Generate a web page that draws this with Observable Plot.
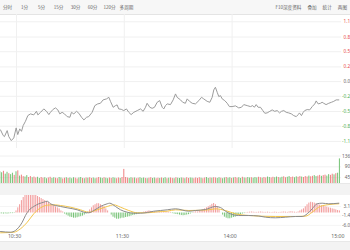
<!DOCTYPE html>
<html><head><meta charset="utf-8">
<script src="https://cdn.jsdelivr.net/npm/d3@7"></script>
<script src="https://cdn.jsdelivr.net/npm/@observablehq/plot@0.6"></script>
<style>
html,body{margin:0;padding:0;background:#fff;}
#wrap{position:relative;width:350px;height:250px;overflow:hidden;font-family:"Noto Sans CJK SC","Noto Sans",sans-serif;}
.tb{position:absolute;left:0;top:0;width:350px;height:15px;background:#f7f7f7;border-bottom:1px solid #e4e4e4;box-sizing:border-box;display:flex;align-items:center;}
.tb .l{display:flex;margin-left:-1px;}
.tb .l span{width:17px;text-align:center;font-size:4.6px;color:#666;}
.tb .r{display:flex;margin-left:auto;margin-right:0;}
.tb .r span{font-size:4.6px;color:#666;margin:0 3px;}
.panel{position:absolute;left:0;}
.panel svg{overflow:hidden;display:block;}
.band{position:absolute;left:0;width:350px;background:#f3f3f3;}
</style></head><body>
<div id="wrap">
  <div class="tb"><div class="l" id="tl"></div><div class="r" id="tr"></div></div>
  <div class="panel" id="price" style="top:14px"></div>
  <div class="panel" id="vol" style="top:148px"></div>
  <div class="band" style="top:183px;height:12px;border-top:1px solid #e8e8e8;box-sizing:border-box;"></div>
  <div class="panel" id="macd" style="top:195px"></div>
  <div class="band" style="top:241px;height:9px;border-top:1px solid #e8e8e8;box-sizing:border-box;"></div>
</div>
<script>
// ---- data ----
const tabsLeft = ["分时","1分","5分","15分","30分","60分","120分","多周期"];
const tabsRight = ["F10深度资料","叠加","统计","两图"];

const timeTicks = [60, 120, 180, 240];
const timeLabels = ["10:30", "11:30", "14:00", "15:00"];

const pctTicks = [1.18, 0.88, 0.59, 0.29, 0, -0.29, -0.59, -0.88, -1.18];
const pctLabels = ["1.1", "0.8", "0.5", "0.2", "0.0", "-0.2", "-0.5", "-0.8", "-1.1"];

const volTicks = [136.1, 90.7, 45.4];
const volLabels = ["136", "90", "45"];

const macdTicks = [3.15, -1.42, -5.99];
const macdLabels = ["3.1", "-1.4", "-6.0"];

// price line: minute index (0 = 9:30, 120 = 11:30/13:00, 240 = 15:00) and % change
const priceT = [51.1,52.6,53.3,54.8,55.7,57.1,58.5,59.8,60.7,61.8,62.8,63.7,65.0,66.3,67.8,69.6,71.1,71.9,73.4,75.2,76.7,78.0,78.9,80.4,81.7,83.0,84.1,85.4,86.7,88.2,89.7,90.6,91.9,93.4,94.7,96.2,97.5,99.0,100.2,102.1,103.6,105.2,106.7,108.2,110.1,111.4,112.3,113.8,115.1,116.0,116.9,118.3,119.7,121.2,122.5,123.8,125.3,127.2,129.0,130.5,131.8,132.7,134.2,135.5,136.8,138.3,139.7,141.1,142.0,142.9,143.9,145.7,147.2,148.5,149.4,151.3,152.5,154.0,155.0,156.3,157.8,159.6,161.5,163.0,164.2,166.1,167.6,168.9,169.8,170.7,171.7,172.6,173.5,174.5,175.9,177.3,178.5,180.0,181.9,183.7,185.2,186.5,188.4,190.2,191.5,192.4,193.4,194.5,195.8,197.1,198.2,199.5,201.0,202.3,203.7,205.1,206.4,207.5,208.8,210.1,211.5,213.0,214.3,215.7,216.8,217.5,218.6,219.6,220.4,221.8,223.2,224.6,226.0,226.8,227.9,229.2,230.1,231.0,232.3,233.8,235.3,236.6,237.9,239.4];
const pricePct = [-0.953,-1.065,-1.085,-0.967,-1.085,-1.164,-1.111,-0.914,-1.046,-0.933,-0.981,-0.868,-0.783,-0.671,-0.637,-0.657,-0.586,-0.657,-0.606,-0.539,-0.586,-0.651,-0.606,-0.547,-0.519,-0.558,-0.637,-0.606,-0.637,-0.691,-0.704,-0.606,-0.637,-0.586,-0.625,-0.704,-0.756,-0.704,-0.691,-0.606,-0.474,-0.440,-0.428,-0.361,-0.341,-0.310,-0.389,-0.507,-0.474,-0.460,-0.539,-0.547,-0.572,-0.539,-0.606,-0.651,-0.606,-0.572,-0.539,-0.586,-0.507,-0.428,-0.507,-0.527,-0.507,-0.408,-0.375,-0.507,-0.539,-0.474,-0.440,-0.454,-0.361,-0.243,-0.310,-0.361,-0.408,-0.428,-0.341,-0.389,-0.428,-0.440,-0.375,-0.310,-0.341,-0.389,-0.408,-0.310,-0.164,-0.112,-0.211,-0.296,-0.276,-0.341,-0.375,-0.428,-0.493,-0.493,-0.479,-0.519,-0.507,-0.454,-0.474,-0.493,-0.474,-0.507,-0.454,-0.507,-0.507,-0.572,-0.625,-0.618,-0.586,-0.558,-0.586,-0.572,-0.618,-0.586,-0.572,-0.606,-0.618,-0.637,-0.671,-0.691,-0.651,-0.618,-0.671,-0.606,-0.572,-0.552,-0.558,-0.493,-0.440,-0.381,-0.440,-0.428,-0.408,-0.428,-0.454,-0.428,-0.408,-0.389,-0.361,-0.361];

// per-minute bars start at minute 51
const barStart = 51;
const volume = [70,66,72,60,68,62,58,64,55,70,
74,52,56,50,48,54,46,50,45,48,
44,47,42,46,43,45,41,44,47,42,
45,43,41,46,44,40,43,45,42,44,
41,45,43,40,44,46,42,41,44,43,
45,42,44,41,43,46,44,42,45,43,
41,44,42,45,43,41,44,42,46,80,
46,44,42,45,43,44,41,43,45,42,
44,42,41,43,45,42,44,41,43,42,
44,42,45,41,43,44,42,41,45,43,
42,44,43,41,45,42,44,43,41,44,
42,45,43,41,44,46,42,44,43,45,
44,42,45,43,41,44,46,43,45,42,
44,46,43,45,42,47,44,43,46,44,
45,43,46,44,47,45,43,46,44,48,
46,44,47,45,48,46,44,47,49,45,
47,50,46,48,45,49,47,50,48,46,
50,48,52,49,51,54,50,52,55,51,
54,56,52,58,55,60,57,62,64,124];
const volDir = ["ddudduddud","uduudduudu","udduudduud","duudduudud","dduuddudud",
"uudduuddud","duudduuduu","uudduduudd","duduudduud","udduduudud",
"dduduudduu","uuduuddudu","uddudduddu","duuddududd","uddduuduud",
"duuddudduu","dduudduudu","uuduudduud","uudduududd"].join("");

const macdHist = [-0.4,-0.4,-0.5,-0.4,-0.5,-0.4,-0.3,-0.3,-0.2,1,2.5,4,6,7.5,8.5,9.5,10,10,9.5,9,
8.5,8,7.5,7,6.5,6,5.5,5,4.5,4,
3.5,3,2.5,2,1,0.5,-0.5,-1,-1.5,-2,
-2.2,-2.5,-2.5,-2.3,-2,-1.8,-1.5,-1,-0.5,0.5,
1.5,2.5,3.5,4,4.5,4.5,4,3.5,3,2,
1,0,-1,-2,-2.5,-3,-3,-2.8,-2.5,-2.5,
-2.2,-2,-1.8,-1.5,-1.2,-1,-0.8,-0.5,-0.3,0.2,
0.4,0.6,0.8,1,0.8,0.6,0.5,0.4,0.3,0.3,
0.2,0.3,0.4,0.5,0.4,0.3,-0.3,-0.5,-0.7,-0.8,
-1,-1.2,-1.3,-1.2,-1,-0.8,-0.5,-0.2,0.3,0.6,
0.5,0.8,1,1.5,2,2.5,3,3.5,4.2,4.6,
4,3,1.5,0,-1,-2,-2.5,-2.8,-2.8,-2.5,
-2.2,-2,-1.6,-1.2,-0.8,-0.5,-0.3,0.2,0.3,0.4,
0.5,0.4,0.3,0.3,0.4,0.5,0.4,0.3,0.3,0.4,
0.3,0.2,0.3,0.4,0.3,0.2,0.3,0.4,0.5,0.4,
0.3,0.5,0.6,0.5,0.4,0.3,0.5,1,1.5,2,
3,4,4.8,5.2,5,4.8,4.5,4,3.8,3.5,
3.2,3,2.8,2.5,2.3,2,1.8,1.5,1.2,1];

const difT = [51.1,56.7,59.4,61.3,63.2,65.0,66.8,69.6,72.4,75.2,77.1,78.9,81.7,84.5,88.2,93.8,97.5,100.2,103.0,106.7,110.5,111.9,115.1,117.9,121.6,125.3,129.0,132.8,136.4,140.1,143.9,148.5,155.9,159.6,165.2,170.7,173.5,176.3,180.0,183.7,189.3,194.7,198.6,204.1,209.7,215.3,219.0,221.8,224.6,227.3,230.1,233.8,239.4];
const difV = [-8.96,-9.3,-8.47,-6.88,-4.46,-1.21,1.21,3.15,4.46,5.23,5.71,4.46,3.63,3.15,2.52,1.55,0.39,0.10,1.21,3.15,4.46,4.75,3.15,1.55,0.39,-0.10,-0.10,0.24,0.87,1.21,1.55,2.03,0.87,1.21,1.69,3.15,2.66,0.87,-0.73,-1.21,-1.21,-1.45,-2.03,-2.32,-2.03,-1.69,-1.69,-0.39,2.03,4.46,4.75,4.46,4.75];
const deaT = [51.1,58.5,62.2,66.0,69.6,73.4,77.1,80.8,84.5,90.1,95.6,100.2,104.9,110.5,114.1,117.9,122.5,127.2,132.8,138.3,143.9,148.5,155.9,167.0,170.7,176.3,181.9,189.3,204.1,215.3,220.8,224.6,228.2,232.9,239.4];
const deaV = [-9.59,-9.30,-7.65,-4.46,-0.39,2.52,3.78,3.97,3.63,2.81,1.55,0.39,1.55,3.15,3.97,2.81,1.21,0.10,0.10,0.58,0.87,1.55,1.21,1.55,2.03,1.21,-0.39,-1.21,-1.69,-1.69,-1.55,0.39,2.81,3.97,4.46];

// ---- build ----
const RED = "#e94b4b", GREEN = "#4fae4f", GRID = "#f0f0f0", TXT = "#666";
const xScale = {domain: [0, 240], range: [-91.8, 339.4], axis: null};
const fs = 4.7;
const labelOpts = {frameAnchor: "right", dx: 8.6, textAnchor: "end", fontSize: fs};

tabsLeft.forEach(s => { const e = document.createElement("span"); e.textContent = s; document.getElementById("tl").appendChild(e); });
tabsRight.forEach(s => { const e = document.createElement("span"); e.textContent = s; document.getElementById("tr").appendChild(e); });

const price = priceT.map((t, i) => ({t, p: pricePct[i]}));
const bars = volume.map((v, i) => ({t: barStart + i, v, up: volDir[i] !== "d", h: macdHist[i]}));
const dif = difT.map((t, i) => ({t, v: difV[i]}));
const dea = deaT.map((t, i) => ({t, v: deaV[i]}));

const pricePlot = Plot.plot({
  width: 350, height: 134, marginLeft: 0, marginRight: 9, marginTop: 0, marginBottom: 0,
  x: xScale,
  y: {domain: [-1.18, 1.18], range: [126.9, 7.3], axis: null},
  color: {type: "identity"},
  style: {fontFamily: "'Noto Sans',sans-serif", overflow: "hidden", background: "transparent"},
  marks: [
    Plot.ruleY(pctTicks, {stroke: GRID}),
    Plot.ruleX(timeTicks.slice(0, 3), {stroke: GRID}),
    Plot.line(price, {x: "t", y: "p", stroke: "#9c9c9c", strokeWidth: 1, clip: true}),
    Plot.text(pctTicks, {y: d => d, text: (d, i) => pctLabels[i], ...labelOpts,
      fill: d => d > 0 ? RED : d < 0 ? GREEN : TXT})
  ]
});
document.getElementById("price").appendChild(pricePlot);

const volPlot = Plot.plot({
  width: 350, height: 40, marginLeft: 0, marginRight: 9, marginTop: 0, marginBottom: 0,
  x: xScale,
  y: {domain: [0, 136.1], range: [40, 7.5], axis: null},
  color: {type: "identity"},
  style: {fontFamily: "'Noto Sans',sans-serif", overflow: "hidden", background: "transparent"},
  marks: [
    Plot.ruleY(volTicks, {stroke: GRID}),
    Plot.rectY(bars, {x1: d => d.t - 0.5, x2: d => d.t + 0.5, y: "v", insetLeft: 0.4, insetRight: 0.4,
      fill: d => d.up ? "#ef8080" : "#74c274", clip: true}),
    Plot.text(volTicks, {y: d => d, text: (d, i) => volLabels[i], ...labelOpts, fill: TXT})
  ]
});
document.getElementById("vol").appendChild(volPlot);

const macdPlot = Plot.plot({
  width: 350, height: 46, marginLeft: 0, marginRight: 9, marginTop: 0, marginBottom: 0,
  x: xScale,
  y: {domain: [-10, 10], range: [38.15, -3.15], axis: null},
  color: {type: "identity"},
  style: {fontFamily: "'Noto Sans',sans-serif", overflow: "hidden", background: "transparent"},
  marks: [
    Plot.ruleY(macdTicks, {stroke: "#f5f5f5"}),
    Plot.rectY(bars, {x1: d => d.t - 0.5, x2: d => d.t + 0.5, y1: 0, y2: "h", insetLeft: 0.4, insetRight: 0.4,
      fill: d => d.h >= 0 ? "#f29a9a" : "#78c478", clip: true}),
    Plot.line(dea, {x: "t", y: "v", stroke: "#f3c54a", strokeWidth: 1, curve: "monotone-x", clip: true}),
    Plot.line(dif, {x: "t", y: "v", stroke: "#8c8c8c", strokeWidth: 1, curve: "monotone-x", clip: true}),
    Plot.text(macdTicks, {y: d => d, text: (d, i) => macdLabels[i], ...labelOpts, fill: TXT}),
    Plot.text(timeTicks, {x: d => d, text: (d, i) => timeLabels[i], frameAnchor: "bottom", dy: -4, dx: -2, fontSize: 5.2, fill: TXT})
  ]
});
document.getElementById("macd").appendChild(macdPlot);
</script>
</body></html>
